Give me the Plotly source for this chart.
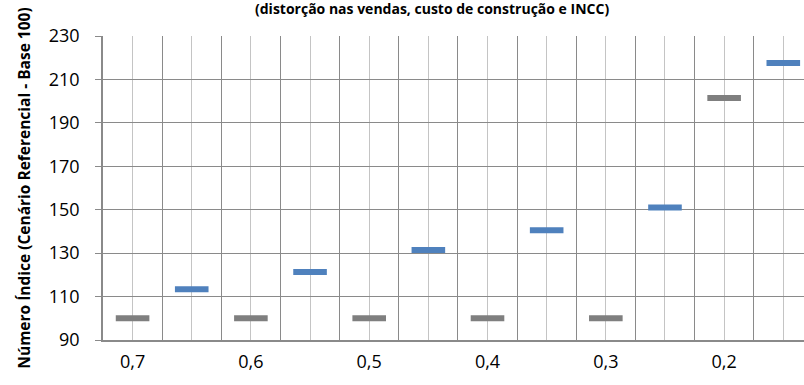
import plotly.graph_objects as go

# slot positions (12 category slots, labels on every other slot)
slot_labels = ["0,7", "", "0,6", "", "0,5", "", "0,4", "", "0,3", "", "0,2", ""]
gray_slots = [0, 2, 4, 6, 8, 10]
gray_values = [100, 100, 100, 100, 100, 201.5]
blue_slots = [1, 3, 5, 7, 9, 11]
blue_values = [113.4, 121.3, 131.5, 140.6, 151.0, 217.6]

y_ticks = [90, 110, 130, 150, 170, 190, 210, 230]

font_family = "Open Sans, Noto Sans, sans-serif"

fig = go.Figure()
fig.add_trace(go.Scatter(
    x=gray_slots, y=gray_values, mode="markers",
    marker=dict(symbol="line-ew", size=24, line=dict(width=6, color="#7f7f7f")),
    showlegend=False, hoverinfo="y"))
fig.add_trace(go.Scatter(
    x=blue_slots, y=blue_values, mode="markers",
    marker=dict(symbol="line-ew", size=24, line=dict(width=6, color="#4f81bd")),
    showlegend=False, hoverinfo="y"))

n = len(slot_labels)
fig.update_layout(
    width=804, height=385,
    margin=dict(l=103, r=0, t=36, b=45),
    paper_bgcolor="white", plot_bgcolor="white",
    font=dict(family=font_family, color="#000000"),
    xaxis=dict(
        range=[-0.5, 11.35],
        tickmode="array", tickvals=list(range(n)), ticktext=slot_labels,
        showgrid=True, gridcolor="#c4c4c4", gridwidth=1,
        minor=dict(tickmode="linear", tick0=-0.5, dtick=1, showgrid=True,
                   gridcolor="#8a8a8a", gridwidth=1, ticks=""),
        ticks="", ticklabelstandoff=5,
        showline=True, linecolor="#8a8a8a", linewidth=1.5,
        zeroline=False,
        tickfont=dict(size=18, family=font_family, color="#000000"),
    ),
    yaxis=dict(
        range=[90, 230], tickmode="array", tickvals=y_ticks,
        showgrid=True, gridcolor="#8a8a8a", gridwidth=1,
        ticks="outside", ticklen=6, tickcolor="#8a8a8a",
        ticklabelstandoff=12,
        showline=True, linecolor="#8a8a8a", linewidth=1.5,
        zeroline=False,
        tickfont=dict(size=18, family=font_family, color="#000000"),
        title=dict(text="<b>Número Índice (Cenário Referencial - Base 100)</b>",
                   font=dict(size=15.5, family=font_family, color="#000000"),
                   standoff=14),
    ),
    annotations=[dict(
        text="<b>(distorção nas vendas, custo de construção e INCC)</b>",
        xref="paper", yref="paper", x=(432 - 103) / (804 - 103), y=1 + 27 / 304,
        xanchor="center", yanchor="middle", showarrow=False,
        font=dict(size=14, family=font_family, color="#000000"))],
)

fig.write_html("out.html")
